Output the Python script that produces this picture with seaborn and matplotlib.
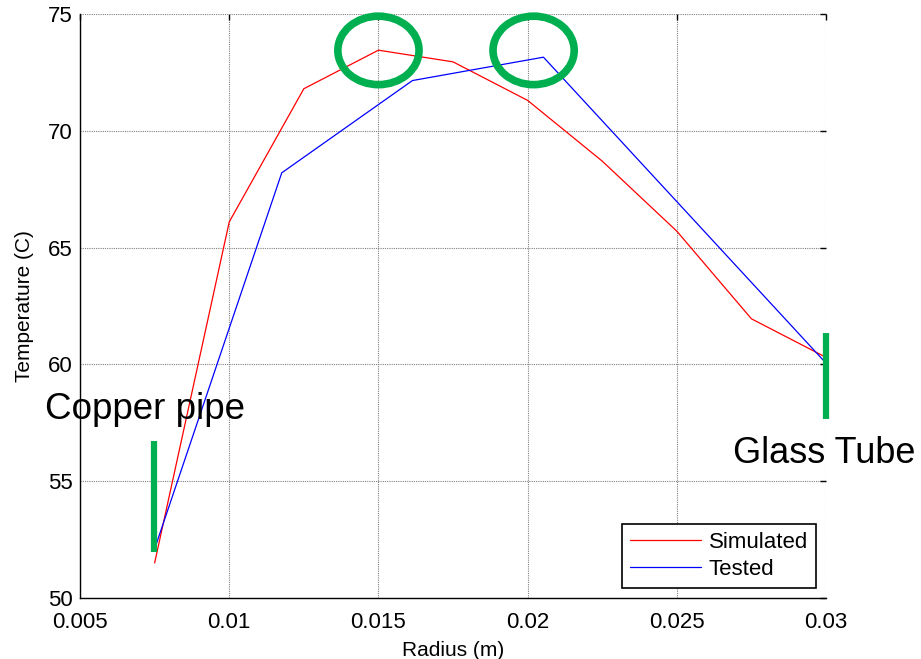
import matplotlib
matplotlib.use("Agg")
import matplotlib.pyplot as plt
from matplotlib.patches import Ellipse
import seaborn as sns
import pandas as pd

# ---- data ----
sim_radius = [0.0075, 0.01, 0.0125, 0.015, 0.0175, 0.02, 0.0225, 0.025, 0.0275, 0.03]
sim_temp = [51.5, 66.1, 71.8, 73.45, 72.95, 71.3, 68.7, 65.7, 61.95, 60.3]
test_radius = [0.0075, 0.01176, 0.01614, 0.02053, 0.03]
test_temp = [52.1, 68.2, 72.15, 73.15, 60.05]
series_names = ["Simulated", "Tested"]
x_ticks = [0.005, 0.01, 0.015, 0.02, 0.025, 0.03]
x_tick_labels = ["0.005", "0.01", "0.015", "0.02", "0.025", "0.03"]
y_ticks = [50, 55, 60, 65, 70, 75]
x_label = "Radius (m)"
y_label = "Temperature (C)"
note_left = "Copper pipe"
note_right = "Glass Tube"
peak_x = [0.015, 0.0202]

df = pd.concat([
    pd.DataFrame({"Radius": sim_radius, "Temp": sim_temp, "Series": series_names[0]}),
    pd.DataFrame({"Radius": test_radius, "Temp": test_temp, "Series": series_names[1]}),
], ignore_index=True)

sns.set_style("white")
plt.rcParams["font.family"] = ["Liberation Sans", "DejaVu Sans"]
plt.rcParams["text.color"] = "black"
plt.rcParams["axes.labelcolor"] = "black"
plt.rcParams["xtick.color"] = "black"
plt.rcParams["ytick.color"] = "black"

fig = plt.figure(figsize=(9.21, 6.59), dpi=100)
ax = fig.add_axes([0.0869, 0.0926, 0.81, 0.8862])

green = "#00B050"

sns.lineplot(data=df, x="Radius", y="Temp", hue="Series", sort=False,
             palette={"Simulated": "#FF0000", "Tested": "#0000FF"},
             linewidth=0.9, ax=ax, legend=True, estimator=None)

ax.set_xlim(0.005, 0.03)
ax.set_ylim(50, 75)
ax.set_xticks(x_ticks)
ax.set_xticklabels(x_tick_labels)
ax.set_yticks(y_ticks)
ax.grid(True, color="#808080", linestyle=(0, (1, 1)), linewidth=0.8)
ax.set_axisbelow(True)
for s in ["top", "right"]:
    ax.spines[s].set_visible(False)
for s in ["left", "bottom"]:
    ax.spines[s].set_color("black")
    ax.spines[s].set_linewidth(1.0)
ax.tick_params(direction="in", length=4, width=1, colors="black", labelsize=16,
               top=True, right=True)
ax.tick_params(axis="x", pad=10)
ax.tick_params(axis="y", pad=5)
ax.set_xlabel(x_label, fontsize=15, labelpad=6)
ax.set_ylabel(y_label, fontsize=15, labelpad=10)

leg = ax.legend(loc="lower right", bbox_to_anchor=(0.986, 0.017), fontsize=16,
                frameon=True, fancybox=False, edgecolor="black", framealpha=1,
                handlelength=3.2, borderpad=0.35, labelspacing=0.3, handletextpad=0.35,
                borderaxespad=0)
leg.get_frame().set_linewidth(1.2)
leg.set_title(None)
for t in leg.get_texts():
    t.set_color("black")

# annotations
for px in peak_x:
    e = Ellipse((px, 73.44), width=0.00272, height=2.93, fill=False,
                edgecolor=green, linewidth=5.5, clip_on=False, zorder=5)
    ax.add_patch(e)
ax.plot([0.00747, 0.00747], [51.95, 56.7], color=green, linewidth=4.5,
        solid_capstyle="butt", clip_on=False, zorder=5)
ax.plot([0.03, 0.03], [57.66, 61.34], color=green, linewidth=4.5,
        solid_capstyle="butt", clip_on=False, zorder=5)
ax.text(0.00383, 58.05, note_left, fontsize=26.5, ha="left", va="center",
        color="black", zorder=6)
ax.text(0.02688, 56.2, note_right, fontsize=26, ha="left", va="center",
        color="black", zorder=6, clip_on=False)

fig.savefig("out.png", dpi=100)
